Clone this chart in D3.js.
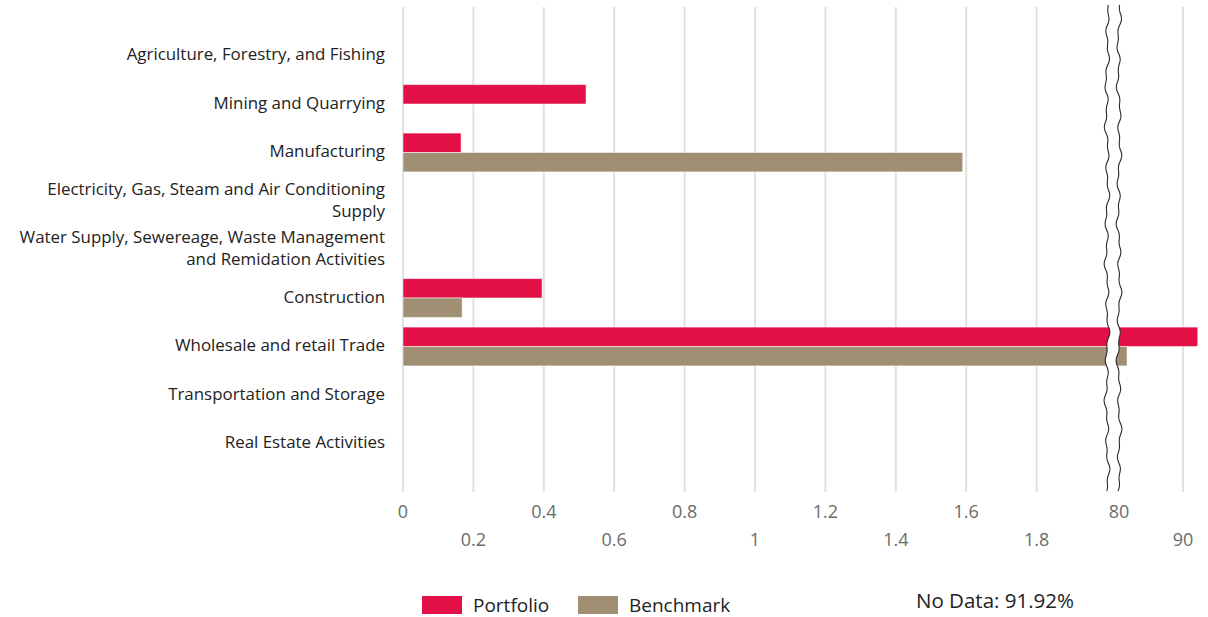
<!DOCTYPE html>
<html lang="en">
<head>
  <meta charset="UTF-8">
  <title>Sector exposure</title>
  <script src="https://d3js.org/d3.v7.min.js"></script>
  <style>
    body { margin: 0; background: #fff; }
    svg { display: block; font-family: "Open Sans", sans-serif; }
  </style>
</head>
<body>
  <div id="chart"></div>
  <script>
    // data (percent)
    const categories = [
      "Agriculture, Forestry, and Fishing",
      "Mining and Quarrying",
      "Manufacturing",
      "Electricity, Gas, Steam and Air Conditioning|Supply",
      "Water Supply, Sewereage, Waste Management|and Remidation Activities",
      "Construction",
      "Wholesale and retail Trade",
      "Transportation and Storage",
      "Real Estate Activities"
    ];
    const portfolio = [0, 0.52, 0.165, 0, 0, 0.395, 92.3, 0, 0];
    const benchmark = [0, 0, 1.59, 0, 0, 0.168, 81.25, 0, 0];
    const seriesNames = ["Portfolio", "Benchmark"];
    const seriesColors = ["#e31048", "#a08f72"];
    const tickValues = [0, 0.2, 0.4, 0.6, 0.8, 1, 1.2, 1.4, 1.6, 1.8, 80, 90];
    const tickLabels = ["0", "0.2", "0.4", "0.6", "0.8", "1", "1.2", "1.4", "1.6", "1.8", "80", "90"];
    const noDataText = "No Data: 91.92%";

    const width = 1208, height = 617;
    const plotTop = 7, plotBottom = 492;

    const svg = d3.select("#chart").append("svg")
      .attr("width", width)
      .attr("height", height);

    // broken axis: 0..2 then a gap, then 80..90
    const x = d3.scaleLinear()
      .domain([0, 2, 80, 90])
      .range([403, 1107, 1119, 1183]);

    const y = d3.scaleBand()
      .domain(d3.range(categories.length))
      .range([plotTop, plotBottom])
      .paddingInner(0.2)
      .paddingOuter(0.6);

    const ySub = d3.scaleBand()
      .domain(seriesNames)
      .range([0, y.bandwidth()]);

    // grid lines (none at 80, the break sits there)
    svg.append("g")
      .selectAll("line")
      .data(tickValues.filter(d => d !== 80))
      .join("line")
      .attr("x1", d => x(d))
      .attr("x2", d => x(d))
      .attr("y1", plotTop)
      .attr("y2", plotBottom)
      .attr("stroke", "#e1e1e1")
      .attr("stroke-width", 2);

    // bars
    const rows = categories.map((c, i) => ({ i: i, values: [portfolio[i], benchmark[i]] }));
    const rowG = svg.append("g")
      .selectAll("g")
      .data(rows)
      .join("g")
      .attr("transform", d => "translate(0," + y(d.i) + ")");

    rowG.selectAll("rect")
      .data(d => d.values.map((v, k) => ({ v: v, k: k })).filter(e => e.v > 0))
      .join("rect")
      .attr("x", x(0))
      .attr("y", d => ySub(seriesNames[d.k]))
      .attr("width", d => x(d.v) - x(0))
      .attr("height", ySub.bandwidth())
      .attr("fill", d => seriesColors[d.k])
      .attr("stroke", "rgba(255,255,255,0.5)")
      .attr("stroke-width", 1);

    // category labels
    const catLabels = svg.append("g")
      .selectAll("text")
      .data(categories)
      .join("text")
      .attr("text-anchor", "end")
      .attr("font-size", 16.9)
      .attr("fill", "#222");

    catLabels.each(function(d, i) {
      const lines = d.split("|");
      const cy = y(i) + y.bandwidth() / 2 - 1;
      const lh = 22;
      const t = d3.select(this);
      lines.forEach((ln, j) => {
        t.append("tspan")
          .attr("x", 385)
          .attr("y", cy - (lines.length - 1) * lh / 2 + j * lh)
          .attr("dy", "0.35em")
          .text(ln);
      });
    });

    // axis break: two wavy lines with white between
    const wave = yy => 1.3 * Math.sin(yy / 7.3) + 0.9 * Math.sin(yy / 3.1 + 1.2) + 0.8 * Math.sin(yy / 23);
    const ys = d3.range(5, plotBottom + 1, 2);
    const leftX = x(2), rightX = x(80);
    const area = d3.area()
      .y(d => d)
      .x0(d => leftX + wave(d))
      .x1(d => rightX + wave(d + 40))
      .curve(d3.curveBasis);
    svg.append("path")
      .attr("d", area(ys))
      .attr("fill", "#fff");
    [[leftX, 0], [rightX, 40]].forEach(([bx, off]) => {
      svg.append("path")
        .attr("d", d3.line().x(d => bx + wave(d + off)).y(d => d).curve(d3.curveBasis)(ys))
        .attr("fill", "none")
        .attr("stroke", "#2a2a2a")
        .attr("stroke-width", 1.1);
    });

    // x tick labels, alternating rows
    svg.append("g")
      .selectAll("text")
      .data(tickValues)
      .join("text")
      .attr("x", d => x(d))
      .attr("y", (d, i) => i % 2 === 0 ? 512 : 540)
      .attr("dy", "0.35em")
      .attr("text-anchor", "middle")
      .attr("font-size", 18)
      .attr("fill", "#6b6b6b")
      .text((d, i) => tickLabels[i]);

    // legend
    const legendX = [422, 578];
    const legend = svg.append("g")
      .selectAll("g")
      .data(seriesNames)
      .join("g")
      .attr("transform", (d, i) => "translate(" + legendX[i] + ",596)");
    legend.append("rect")
      .attr("width", 40)
      .attr("height", 18)
      .attr("fill", (d, i) => seriesColors[i]);
    legend.append("text")
      .attr("x", 51)
      .attr("y", 9)
      .attr("dy", "0.35em")
      .attr("font-size", 19)
      .attr("fill", "#222")
      .text(d => d);

    svg.append("text")
      .attr("x", 916)
      .attr("y", 601)
      .attr("dy", "0.35em")
      .attr("font-size", 20.5)
      .attr("fill", "#222")
      .text(noDataText);
  </script>
</body>
</html>
